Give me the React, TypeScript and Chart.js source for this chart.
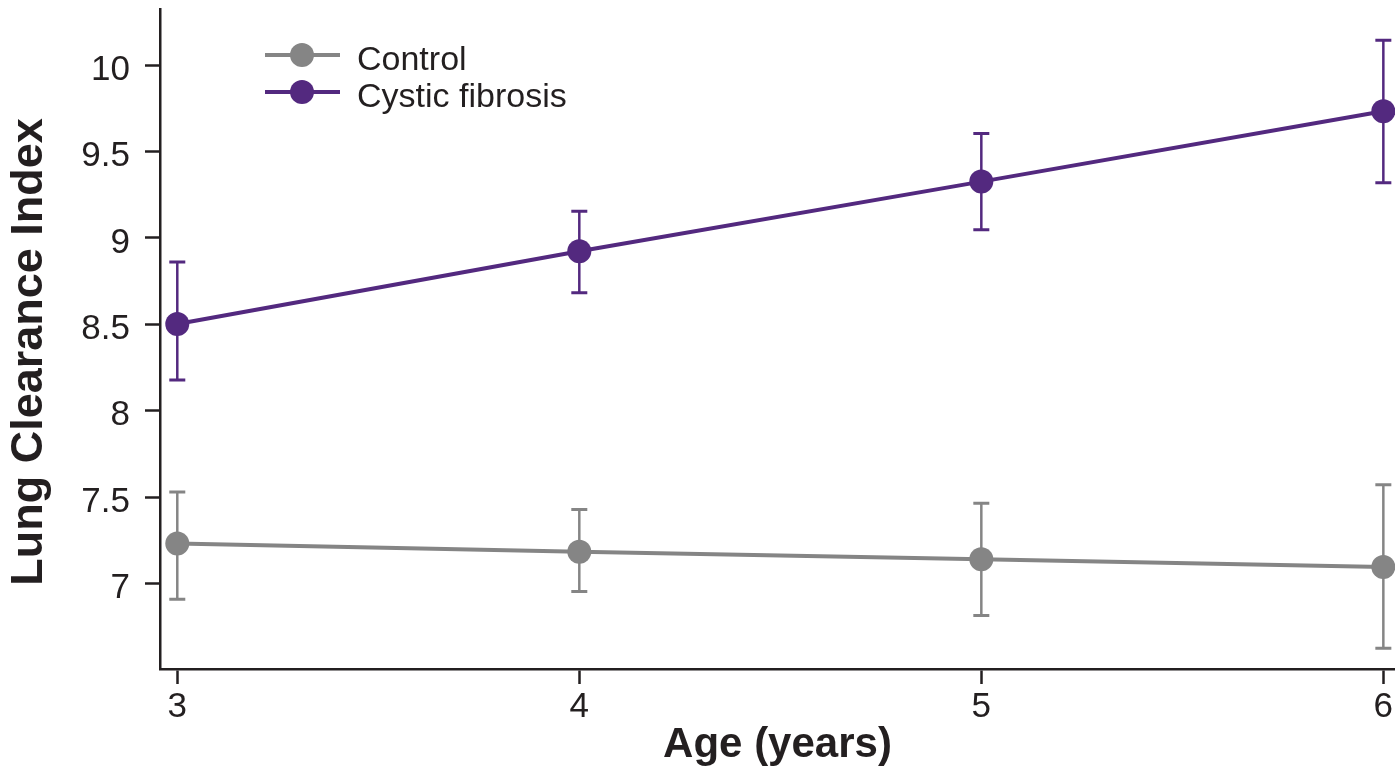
import React, { useEffect, useRef } from "react";
import { Chart, registerables } from "chart.js";

Chart.register(...registerables);

// ---------- data ----------
const ages = [3, 4, 5, 6];
const xTickValues = [3, 4, 5, 6];
const yTickValues = [7, 7.5, 8, 8.5, 9, 9.5, 10];
const yTickLabels = ["7", "7.5", "8", "8.5", "9", "9.5", "10"];
const seriesNames = ["Control", "Cystic fibrosis"];

const controlMean = [7.232, 7.183, 7.14, 7.096];
const controlLower = [6.908, 6.953, 6.815, 6.625];
const controlUpper = [7.529, 7.428, 7.465, 7.572];

const cfMean = [8.502, 8.923, 9.326, 9.733];
const cfLower = [8.178, 8.682, 9.048, 9.319];
const cfUpper = [8.861, 9.154, 9.604, 10.144];

const xTitle = "Age (years)";
const yTitle = "Lung Clearance Index";

// ---------- style ----------
const FONT = "'Liberation Sans', Arial, Helvetica, sans-serif";
const INK = "#231f20";
const GRAY = "#858585";
const PURPLE = "#53297f";

const errorsByDataset = [
  { lower: controlLower, upper: controlUpper },
  { lower: cfLower, upper: cfUpper },
];

const errorBarPlugin = {
  id: "errorBars",
  beforeDatasetsDraw(chart: any) {
    const ctx = chart.ctx;
    const xs = chart.scales.x;
    const ys = chart.scales.y;
    chart.data.datasets.forEach((ds: any, di: number) => {
      const err = errorsByDataset[di];
      ctx.save();
      ctx.strokeStyle = ds.borderColor;
      ds.data.forEach((p: any, i: number) => {
        const x = xs.getPixelForValue(p.x);
        const y1 = ys.getPixelForValue(err.lower[i]);
        const y2 = ys.getPixelForValue(err.upper[i]);
        ctx.lineWidth = 2.5;
        ctx.beginPath();
        ctx.moveTo(x, y1);
        ctx.lineTo(x, y2);
        ctx.stroke();
        ctx.lineWidth = 3;
        ctx.beginPath();
        ctx.moveTo(x - 8, y1);
        ctx.lineTo(x + 8, y1);
        ctx.moveTo(x - 8, y2);
        ctx.lineTo(x + 8, y2);
        ctx.stroke();
      });
      ctx.restore();
    });
  },
};

const legendPlugin = {
  id: "lineLegend",
  afterDraw(chart: any) {
    const ctx = chart.ctx;
    chart.data.datasets.forEach((ds: any, i: number) => {
      const y = 55 + i * 37;
      ctx.save();
      ctx.strokeStyle = ds.borderColor;
      ctx.lineWidth = 4;
      ctx.beginPath();
      ctx.moveTo(265, y);
      ctx.lineTo(340, y);
      ctx.stroke();
      ctx.fillStyle = ds.borderColor;
      ctx.beginPath();
      ctx.arc(302, y, 12, 0, Math.PI * 2);
      ctx.fill();
      ctx.fillStyle = INK;
      ctx.font = `34px ${FONT}`;
      ctx.textAlign = "left";
      ctx.textBaseline = "middle";
      ctx.fillText(ds.label, 357, y + 6);
      ctx.restore();
    });
  },
};

const yTitlePlugin = {
  id: "yTitle",
  afterDraw(chart: any) {
    const ctx = chart.ctx;
    ctx.save();
    ctx.translate(30, 352);
    ctx.rotate(-Math.PI / 2);
    ctx.fillStyle = INK;
    ctx.font = `bold 45px ${FONT}`;
    ctx.textAlign = "center";
    ctx.textBaseline = "middle";
    ctx.fillText(yTitle, 0, 0);
    ctx.restore();
  },
};

export default function App() {
  const canvasRef = useRef<HTMLCanvasElement | null>(null);

  useEffect(() => {
    document.body.style.margin = "0";
    const canvas = canvasRef.current;
    if (!canvas) return;

    const chart = new Chart(canvas, {
      type: "line",
      data: {
        datasets: [
          {
            label: seriesNames[0],
            data: ages.map((a, i) => ({ x: a, y: controlMean[i] })),
            borderColor: GRAY,
            backgroundColor: GRAY,
            borderWidth: 4,
            pointRadius: 12,
            pointBorderWidth: 0,
            pointHoverRadius: 12,
            pointBackgroundColor: GRAY,
            tension: 0,
            clip: false,
          } as any,
          {
            label: seriesNames[1],
            data: ages.map((a, i) => ({ x: a, y: cfMean[i] })),
            borderColor: PURPLE,
            backgroundColor: PURPLE,
            borderWidth: 4,
            pointRadius: 12,
            pointBorderWidth: 0,
            pointHoverRadius: 12,
            pointBackgroundColor: PURPLE,
            tension: 0,
            clip: false,
          } as any,
        ],
      },
      options: {
        responsive: false,
        animation: false,
        events: [],
        layout: { autoPadding: false, padding: { top: 9, left: 0, right: 0, bottom: 0 } },
        plugins: {
          legend: { display: false },
          tooltip: { enabled: false },
        },
        scales: {
          x: {
            type: "linear",
            min: 2.957,
            max: 6.029,
            afterBuildTicks: (s: any) => {
              s.ticks = xTickValues.map((v) => ({ value: v }));
            },
            afterFit: (s: any) => {
              s.height = 98;
              s.paddingLeft = 0;
              s.paddingRight = 0;
            },
            ticks: {
              autoSkip: false,
              maxRotation: 0,
              padding: 2,
              color: INK,
              font: { family: FONT, size: 35 },
              callback: (v: any) => String(v),
            },
            grid: {
              display: true,
              drawOnChartArea: false,
              drawTicks: true,
              tickLength: 15,
              tickWidth: 2.5,
              tickColor: INK,
            },
            border: { display: true, width: 2.5, color: INK },
            title: {
              display: true,
              text: xTitle,
              color: INK,
              font: { family: FONT, size: 42, weight: "bold", lineHeight: 1 },
              padding: { top: 0, bottom: 0.6 },
            },
          },
          y: {
            type: "linear",
            min: 6.505,
            max: 10.325,
            afterBuildTicks: (s: any) => {
              s.ticks = yTickValues.map((v) => ({ value: v }));
            },
            afterFit: (s: any) => {
              s.width = 160;
              s.paddingTop = 0;
              s.paddingBottom = 0;
            },
            ticks: {
              autoSkip: false,
              padding: 15,
              labelOffset: 5,
              color: INK,
              font: { family: FONT, size: 35 },
              callback: (v: any) => {
                const idx = yTickValues.indexOf(Number(v));
                return idx >= 0 ? yTickLabels[idx] : "";
              },
            },
            grid: {
              display: true,
              drawOnChartArea: false,
              drawTicks: true,
              tickLength: 15,
              tickWidth: 2.5,
              tickColor: INK,
            },
            border: { display: true, width: 2.5, color: INK },
            title: { display: false },
          },
        },
      } as any,
      plugins: [errorBarPlugin, legendPlugin, yTitlePlugin],
    });

    return () => {
      chart.destroy();
    };
  }, []);

  return (
    <div style={{ position: "fixed", left: 0, top: 0, width: 1395, height: 767 }}>
      <canvas ref={canvasRef} width={1395} height={767} style={{ display: "block" }} />
    </div>
  );
}
